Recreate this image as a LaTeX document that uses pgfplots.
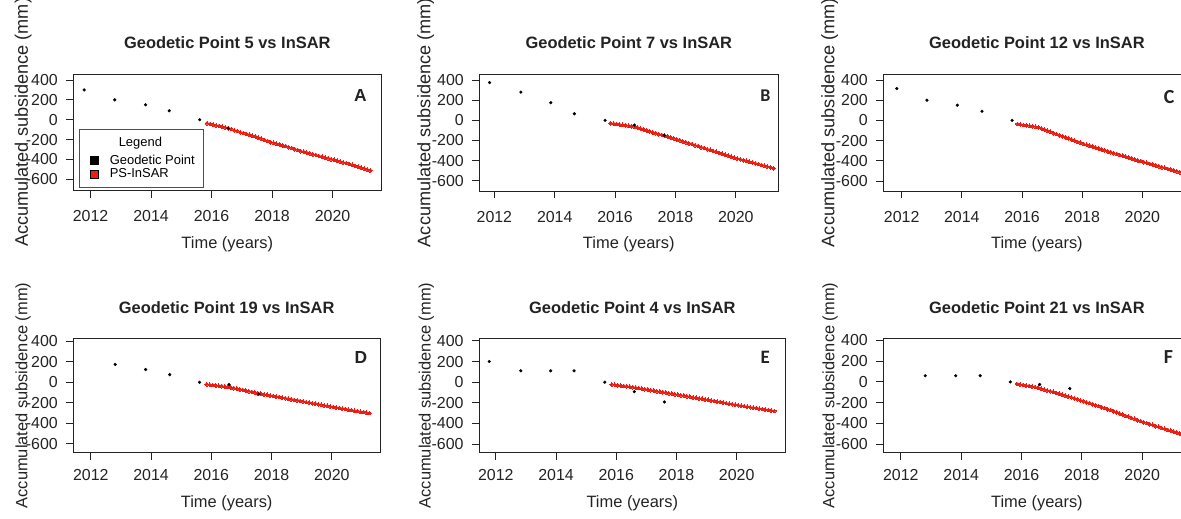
\documentclass[border=0pt]{standalone}
\usepackage{fontspec}
\setmainfont{Liberation Sans}
\newfontfamily\carlito{Carlito}
\usepackage{pgfplots}
\usepackage{pgfplotstable}
\pgfplotsset{compat=1.18}
\definecolor{psred}{RGB}{235,30,20}
\definecolor{ink}{RGB}{35,35,35}

% PS-InSAR series, one column per panel
\pgfplotstableread{
t A B C D E F
2015.85 -35 -28 -35 -20 -22 -20
2015.95 -42 -33 -40 -24 -26 -25
2016.05 -48 -36 -45 -26 -30 -29
2016.15 -57 -42 -48 -32 -33 -35
2016.25 -63 -45 -54 -35 -38 -39
2016.35 -69 -51 -57 -38 -40 -44
2016.45 -78 -54 -63 -43 -45 -49
2016.55 -85 -59 -70 -46 -48 -56
2016.65 -94 -65 -82 -51 -54 -65
2016.75 -106 -73 -91 -58 -57 -72
2016.85 -114 -84 -104 -62 -63 -82
2016.95 -126 -91 -113 -71 -68 -89
2017.05 -133 -102 -126 -75 -71 -96
2017.15 -144 -109 -135 -83 -78 -106
2017.25 -151 -120 -148 -87 -81 -113
2017.35 -162 -127 -157 -95 -88 -124
2017.45 -169 -138 -169 -100 -91 -131
2017.55 -182 -145 -178 -108 -97 -142
2017.65 -191 -154 -191 -112 -100 -148
2017.75 -204 -161 -200 -119 -107 -159
2017.85 -213 -172 -213 -123 -110 -166
2017.95 -226 -179 -222 -130 -117 -178
2018.05 -233 -191 -234 -134 -120 -186
2018.15 -243 -198 -241 -141 -127 -197
2018.25 -249 -210 -252 -144 -130 -204
2018.35 -259 -217 -259 -152 -137 -215
2018.45 -265 -229 -270 -155 -140 -225
2018.55 -276 -236 -278 -162 -148 -232
2018.65 -284 -248 -289 -166 -151 -244
2018.75 -296 -255 -296 -173 -158 -251
2018.85 -304 -267 -307 -176 -161 -263
2018.95 -316 -274 -314 -183 -168 -270
2019.05 -323 -286 -325 -187 -171 -284
2019.15 -333 -293 -332 -194 -179 -292
2019.25 -339 -305 -343 -198 -182 -305
2019.35 -349 -312 -349 -205 -189 -314
2019.45 -355 -324 -360 -209 -192 -328
2019.55 -365 -331 -367 -216 -199 -335
2019.65 -371 -343 -378 -220 -203 -349
2019.75 -381 -350 -385 -227 -210 -356
2019.85 -387 -362 -395 -231 -213 -370
2019.95 -397 -369 -402 -238 -220 -378
2020.05 -403 -380 -414 -242 -223 -390
2020.15 -413 -386 -420 -249 -230 -396
2020.25 -419 -396 -431 -252 -232 -408
2020.35 -429 -402 -437 -259 -239 -414
2020.45 -435 -412 -447 -262 -242 -427
2020.55 -446 -418 -454 -269 -248 -433
2020.65 -454 -428 -464 -272 -251 -445
2020.75 -465 -434 -470 -279 -258 -452
2020.85 -473 -444 -481 -282 -260 -464
2020.95 -484 -450 -487 -289 -267 -470
2021.05 -492 -460 -497 -291 -270 -482
2021.15 -503 -466 -503 -298 -276 -489
2021.25 -511 -476 -513 -301 -279 -500
}\ps

\pgfplotsset{
  panel/.style={
    scale only axis, anchor=north west,
    xtick={2012,2014,2016,2018,2020},
    xticklabels={2012,2014,2016,2018,2020},
    ytick={-600,-400,-200,0,200,400},
    yticklabels={\mbox{-}600,\mbox{-}400,\mbox{-}200,0,200,400},
    xtick pos=bottom, ytick pos=left,
    tick align=outside, major tick length=7bp,
    every tick/.style={ink, line width=0.9bp},
    axis line style={ink, line width=1bp},
    tick label style={font=\fontsize{16}{19}\selectfont, text=ink},
    yticklabel style={anchor=east, xshift=-5bp},
    xlabel={Time (years)}, ylabel={Accumulated subsidence (mm)},
    title style={at={(axis description cs:0.5,1)}, anchor=base, yshift=19.5bp,
      font=\bfseries\fontsize{16.5}{19}\selectfont, text=ink},
  },
  % x tick label drop, x label drop
  xlab/.style 2 args={
    xticklabel style={anchor=base, yshift=#1},
    every axis x label/.style={at={(axis description cs:0.5,0)}, anchor=base,
      yshift=#2, font=\fontsize{16.5}{19}\selectfont, text=ink}},
  % y label: x offset, y offset, font size
  ylab/.style n args={3}{
    every axis y label/.style={at={(axis description cs:0,0.5)}, xshift=#1, yshift=#2,
      rotate=90, anchor=base, font=\fontsize{#3}{20}\selectfont, text=ink}},
  row1/.style={xlab={-24bp}{-57.5bp}},
  row2/.style={xlab={-21bp}{-55bp}},
  geo/.style={only marks, mark=*, mark size=1.4bp, color=black, forget plot},
  ins/.style={only marks, mark=*, mark size=1.9bp, color=psred,
    mark options={draw=psred, fill=psred, line width=0pt}, forget plot},
}

\begin{document}
\begin{tikzpicture}
\useasboundingbox (0,0) rectangle (1181bp,-519bp);
\clip (0,0) rectangle (1181bp,-519bp);

% A
\begin{axis}[panel, row1, ylab={-45.5bp}{10bp}{18.2}, at={(73.3bp,-74bp)}, width=308bp, height=116.7bp,
  xmin=2011.43, xmax=2021.61, ymin=-714, ymax=460,
  title={Geodetic Point 5 vs InSAR},
  legend cell align=left,
  legend style={at={(axis description cs:0.0195,0.02)}, anchor=south west,
    draw=ink!80, line width=1bp, font=\fontsize{13}{15}\selectfont,
    inner xsep=3bp, inner ysep=6.5bp, row sep=-1.5bp}]
\addplot[ins] table[x=t, y=A] {\ps};
\addplot[geo] coordinates {(2011.79,300) (2012.8,200) (2013.82,150) (2014.6,90) (2015.61,0) (2016.55,-85)};
\addlegendimage{empty legend}
\addlegendimage{legend image code/.code={\path (0bp,0bp) (24bp,0bp); \draw[fill=black,draw=black] (7bp,-4bp) rectangle (15bp,4bp);}}
\addlegendimage{legend image code/.code={\path (0bp,0bp) (24bp,0bp); \draw[fill=psred,draw=black] (7bp,-4bp) rectangle (15bp,4bp);}}
\legend{\hspace*{9bp}\raisebox{4.5bp}{Legend}, Geodetic Point\hspace*{4bp}, PS-InSAR}
\node[anchor=base east, font=\bfseries\fontsize{17.5}{20}\selectfont, text=ink,
  xshift=-11bp, yshift=-27.7bp] at (rel axis cs:1,1) {A};
\end{axis}

% B
\begin{axis}[panel, row1, ylab={-49bp}{10bp}{18.2}, at={(479.3bp,-74.3bp)}, width=299bp, height=116.7bp,
  xmin=2011.5, xmax=2021.41, ymin=-702, ymax=457,
  title={Geodetic Point 7 vs InSAR}]
\addplot[ins] table[x=t, y=B] {\ps};
\addplot[geo] coordinates {(2011.84,375) (2012.88,280) (2013.87,175) (2014.65,65) (2015.67,0) (2016.64,-47) (2017.63,-150)};
\node[anchor=base east, font=\carlito\bfseries\fontsize{18}{20}\selectfont, text=ink,
  xshift=-4.3bp, yshift=-27.4bp] at (rel axis cs:1,1) {B};
\end{axis}

% C
\begin{axis}[panel, row1, ylab={-49bp}{10bp}{18.2}, at={(883.3bp,-74.3bp)}, width=307.2bp, height=116.7bp,
  xmin=2011.39, xmax=2021.6, ymin=-699, ymax=456,
  title={Geodetic Point 12 vs InSAR}]
\addplot[ins] table[x=t, y=C] {\ps};
\addplot[geo] coordinates {(2011.84,315) (2012.84,200) (2013.85,150) (2014.67,90) (2015.67,0)};
\node[anchor=base east, font=\carlito\bfseries\fontsize{20}{22}\selectfont, text=ink,
  xshift=-12.5bp, yshift=-29bp] at (rel axis cs:1,1) {C};
\end{axis}

% D
\begin{axis}[panel, row2, ylab={-46bp}{0bp}{16.5}, at={(73.3bp,-338.5bp)}, width=306.7bp, height=114bp,
  xmin=2011.42, xmax=2021.6, ymin=-688, ymax=429,
  title={Geodetic Point 19 vs InSAR}]
\addplot[ins] table[x=t, y=D] {\ps};
\addplot[geo] coordinates {(2012.81,175) (2013.82,125) (2014.62,75) (2015.61,0) (2016.59,-22) (2017.58,-115)};
\node[anchor=base east, font=\bfseries\fontsize{17.5}{20}\selectfont, text=ink,
  xshift=-9.3bp, yshift=-25.3bp] at (rel axis cs:1,1) {D};
\end{axis}

% E
\begin{axis}[panel, row2, ylab={-48.5bp}{0bp}{16.5}, at={(479bp,-338.5bp)}, width=306.7bp, height=114bp,
  xmin=2011.44, xmax=2021.63, ymin=-682, ymax=423,
  title={Geodetic Point 4 vs InSAR}]
\addplot[ins] table[x=t, y=E] {\ps};
\addplot[geo] coordinates {(2011.78,200) (2012.83,110) (2013.82,110) (2014.6,110) (2015.62,0) (2016.6,-92) (2017.6,-192)};
\node[anchor=base east, font=\carlito\bfseries\fontsize{19}{21}\selectfont, text=ink,
  xshift=-12.4bp, yshift=-24.7bp] at (rel axis cs:1,1) {E};
\end{axis}

% F
\begin{axis}[panel, row2, ylab={-49bp}{0bp}{16.5}, at={(883.3bp,-338.5bp)}, width=307.2bp, height=114bp,
  xmin=2011.42, xmax=2021.6, ymin=-681, ymax=419,
  title={Geodetic Point 21 vs InSAR}]
\addplot[ins] table[x=t, y=F] {\ps};
\addplot[geo] coordinates {(2012.81,60) (2013.82,60) (2014.63,60) (2015.63,0) (2016.6,-25) (2017.6,-64)};
\node[anchor=base east, font=\carlito\bfseries\fontsize{20}{22}\selectfont, text=ink,
  xshift=-14bp, yshift=-25bp] at (rel axis cs:1,1) {F};
\end{axis}
\end{tikzpicture}
\end{document}
